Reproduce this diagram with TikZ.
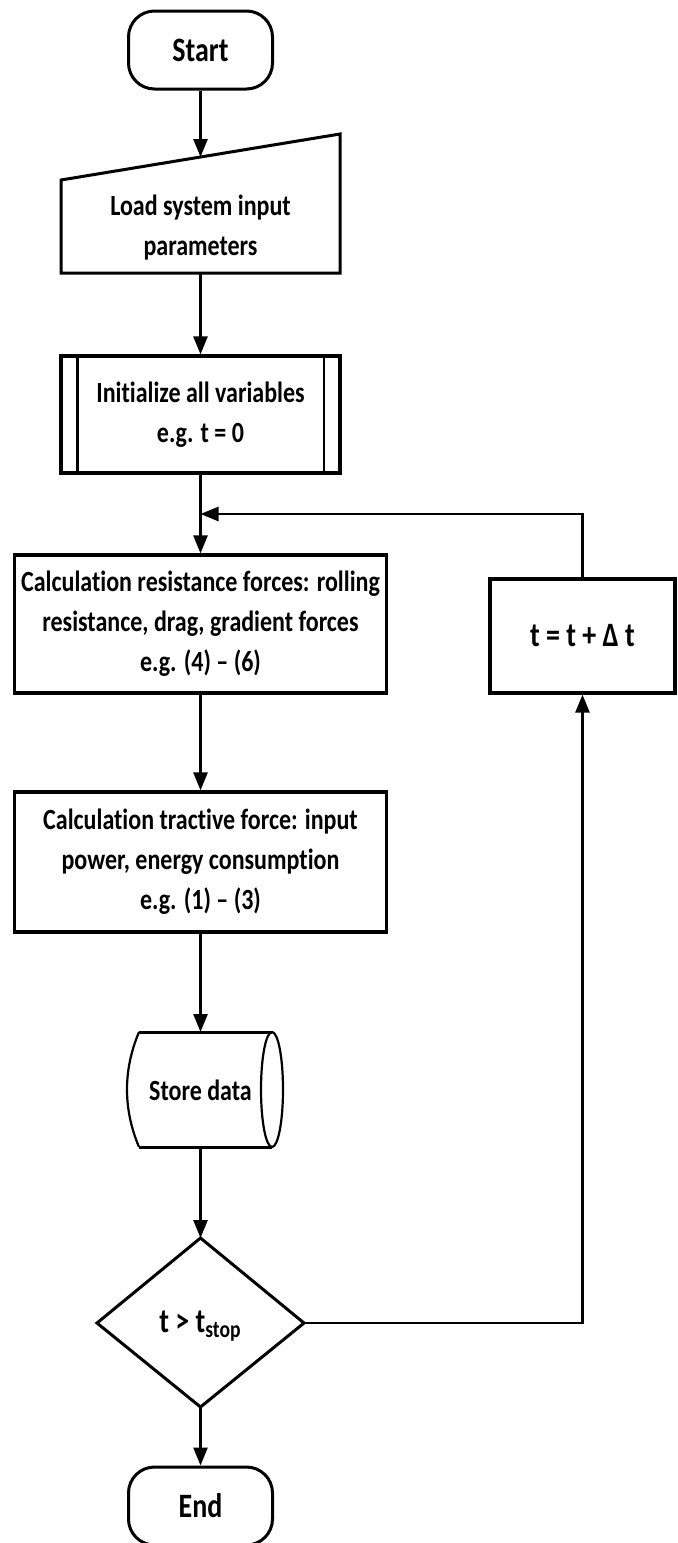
\documentclass[tikz,border=0pt]{standalone}
\usepackage{fontspec}
\usepackage{graphicx}
\setmainfont[Ligatures=NoCommon]{Carlito}
\usetikzlibrary{arrows.meta,calc}
\newcommand\vs[1]{\scalebox{1}[1.22]{#1}}
\begin{document}
\begin{tikzpicture}[x=0.5pt,y=-0.5pt,
  every node/.style={font=\fontsize{12}{20}\selectfont\bfseries, inner sep=0pt, align=center},
  bigtext/.style={font=\fontsize{14}{20}\selectfont\bfseries},
  term/.style={draw, line width=1.5pt, rounded corners=13pt, minimum width=72pt, minimum height=39pt, bigtext},
  procbox/.style={draw, line width=1.6pt},
  shapeline/.style={line width=1.5pt, line join=miter},
  thinline/.style={line width=1.1pt},
  conn/.style={line width=1.3pt},
  arr/.style={conn, -{Triangle[length=9pt,width=7pt]}}]
\useasboundingbox (0,0) rectangle (678,1543);

% Start
\node[term] (start) at (200.5,50) {\vs{Start}};

% Manual input
\coordinate (inTL) at (61,180);
\coordinate (inTR) at (340,134);
\coordinate (inBR) at (340,273);
\coordinate (inBL) at (61,273);
\coordinate (inTop) at (200.5,157);
\coordinate (inBot) at (200.5,273);
\draw[shapeline] (inTL) -- (inTR) -- (inBR) -- (inBL) -- cycle;
\node (inp) at (200.5,228) {\vs{Load system input}\\\vs{parameters}};

% Initialize (predefined process)
\node[procbox, minimum width=139.5pt, minimum height=58.5pt] (init) at (200.5,414.5)
  {\vs{Initialize all variables}\\\vs{e.g. t = 0}};
\draw[thinline] ($(init.north west)+(18,0)$) -- ($(init.south west)+(18,0)$);
\draw[thinline] ($(init.north east)+(-18,0)$) -- ($(init.south east)+(-18,0)$);

\coordinate (merge) at (200.5,514);

% Resistance forces
\node[procbox, minimum width=186pt, minimum height=69pt] (calcR) at (200.5,624)
  {\vs{Calculation resistance forces: rolling}\\\vs{resistance, drag, gradient forces}\\\vs{e.g. (4) -- (6)}};

% t = t + dt
\node[procbox, minimum width=92.5pt, minimum height=57pt, bigtext] (tbox) at (582.5,636)
  {\vs{t = t + Δ t}};

% Tractive force
\node[procbox, minimum width=186pt, minimum height=70pt] (calcT) at (200.5,862)
  {\vs{Calculation tractive force: input}\\\vs{power, energy consumption}\\\vs{e.g. (1) -- (3)}};

% Store data
\coordinate (stTop) at (200.5,1032);
\coordinate (stBot) at (200.5,1147);
\draw[shapeline] (139,1032) -- (272,1032);
\draw[shapeline] (139,1147) -- (272,1147);
\draw[thinline] (139,1032) .. controls (123,1070) and (123,1109) .. (139,1147);
\draw[thinline] (272,1089.5) ellipse [x radius=5.5pt, y radius=28.75pt];
\node (store) at (200.5,1090) {\vs{Store data}};

% Decision
\coordinate (dT) at (200.5,1238);
\coordinate (dR) at (304,1323);
\coordinate (dB) at (200.5,1407);
\coordinate (dL) at (97,1323);
\draw[shapeline] (dT) -- (dR) -- (dB) -- (dL) -- cycle;
\node[bigtext] (dec) at (200.5,1326) {\vs{t > t\textsubscript{stop}}};

% End
\node[term] (end) at (200.5,1506) {\vs{End}};

% Connectors
\draw[arr] (start.south) -- (inTop);
\draw[arr] (inBot) -- (init.north);
\draw[conn] (init.south) -- (merge);
\draw[arr] (merge) -- (calcR.north);
\draw[arr] (calcR.south) -- (calcT.north);
\draw[arr] (calcT.south) -- (stTop);
\draw[arr] (stBot) -- (dT);
\draw[arr] (dB) -- (end.north);
\draw[arr] (dR) -| (tbox.south);
\draw[arr] (tbox.north) |- (merge);
\end{tikzpicture}
\end{document}
